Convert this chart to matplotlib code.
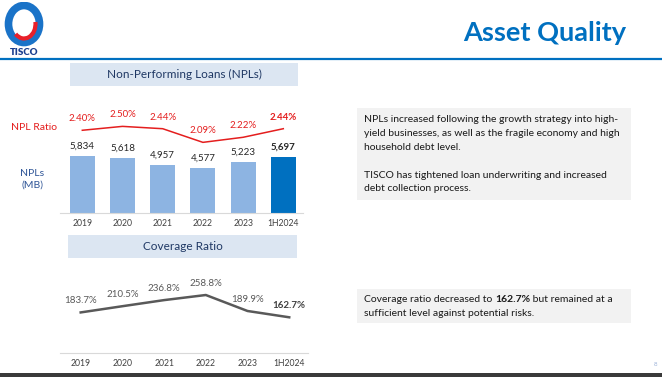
import numpy as np
import matplotlib.pyplot as plt
from matplotlib.patches import Rectangle, Ellipse, Arc

plt.rcParams['font.family'] = ['Lato', 'DejaVu Sans']

years = ['2019', '2020', '2021', '2022', '2023', '1H2024']
npl_mb = [5834, 5618, 4957, 4577, 5223, 5697]
npl_ratio = [2.40, 2.50, 2.44, 2.09, 2.22, 2.44]
coverage = [183.7, 210.5, 236.8, 258.8, 189.9, 162.7]

note_npl = ("NPLs increased following the growth strategy into high-\n"
            "yield businesses, as well as the fragile economy and high\n"
            "household debt level.\n\n"
            "TISCO has tightened loan underwriting and increased\n"
            "debt collection process.")

W, H = 662, 377
fig = plt.figure(figsize=(W / 100, H / 100), dpi=100)


def box(x0, y0, x1, y1):
    # pixel box (top-left origin) -> figure fraction rect
    return [x0 / W, 1 - y1 / H, (x1 - x0) / W, (y1 - y0) / H]


def fx(x):
    return x / W


def fy(y):
    return 1 - y / H


blue = '#0070C0'
red = '#E41E1E'
navy = '#2F5597'
fs_body = 7.5

# header
fig.add_artist(plt.Line2D([0, 1], [fy(59), fy(59)], color=blue, lw=1.6))
fig.text(fx(545), fy(33), 'Asset Quality', color=blue, fontsize=19.5,
         fontweight='bold', ha='center', va='center')

# logo
lax = fig.add_axes(box(4, 2, 44, 58))
lax.set_xlim(0, 40)
lax.set_ylim(56, 0)
lax.axis('off')
lax.add_patch(Ellipse((20, 22), 31, 37, fill=False, ec='#1a73c8', lw=5.5))
lax.add_patch(Arc((20, 22), 23, 29, theta1=-10, theta2=130, ec='#E8202A', lw=3))
lax.text(20, 50.5, 'TISCO', ha='center', va='center', fontsize=7,
         fontweight='heavy', color='#1B3F8F')

# section headers
for (x0, y0, x1, y1), label in [((70, 63, 298, 86), 'Non-Performing Loans (NPLs)'),
                                ((68, 235, 297, 258), 'Coverage Ratio')]:
    fig.add_artist(Rectangle((fx(x0), fy(y1)), (x1 - x0) / W, (y1 - y0) / H,
                             transform=fig.transFigure, fc='#DCE6F2', ec='none'))
    fig.text(fx((x0 + x1) / 2), fy((y0 + y1) / 2), label, ha='center', va='center',
             fontsize=8.5, color='#1F3864')

# NPL bars
x = np.arange(len(years))
ax = fig.add_axes(box(60, 110, 303, 213))
colors = ['#8DB4E2'] * (len(years) - 1) + [blue]
ax.bar(x, npl_mb, width=0.62, color=colors)
ax.set_xlim(-0.555, 5.49)
ax.set_ylim(0, 10537)
for i, v in enumerate(npl_mb):
    last = i == len(years) - 1
    ax.annotate(f'{v:,}', (i, v), xytext=(0, 7), textcoords='offset points',
                ha='center', va='center', fontsize=7, color='#262626',
                fontweight='bold' if last else 'normal')
ax.set_xticks(x)
ax.set_xticklabels(years)
ax.tick_params(length=0, labelsize=6.2, labelcolor='#404040', pad=4, left=False,
               labelleft=False)
for s in ['top', 'right', 'left']:
    ax.spines[s].set_visible(False)
ax.spines['bottom'].set_color('#D9D9D9')

ax2 = ax.twinx()
ax2.plot(x, npl_ratio, color=red, lw=1.1)
ax2.set_ylim(0.278, 2.92)
ax2.axis('off')
for i, v in enumerate(npl_ratio):
    last = i == len(years) - 1
    ax2.annotate(f'{v:.2f}%', (i, v), xytext=(0, 8.2), textcoords='offset points',
                 ha='center', va='center', fontsize=7, color=red,
                 fontweight='bold' if last else 'normal')

fig.text(fx(34), fy(128), 'NPL Ratio', color=red, fontsize=7.5, ha='center', va='center')
fig.text(fx(32), fy(179.5), 'NPLs\n(MB)', color=navy, fontsize=7.5, ha='center',
         va='center', linespacing=1.3)

# coverage line
cax = fig.add_axes(box(60, 270, 308, 353))
cax.plot(x, coverage, color='#595959', lw=1.8)
cax.set_xlim(-0.496, 5.45)
cax.set_ylim(8.8, 366.6)
for i, v in enumerate(coverage):
    last = i == len(years) - 1
    cax.annotate(f'{v:.1f}%', (i, v), xytext=(0, 8.5), textcoords='offset points',
                 ha='center', va='center', fontsize=7,
                 color='#404040' if last else '#595959',
                 fontweight='bold' if last else 'normal')
cax.set_xticks(x)
cax.set_xticklabels(years)
cax.tick_params(length=0, labelsize=6.2, labelcolor='#404040', pad=4, left=False,
                labelleft=False)
for s in ['top', 'right', 'left']:
    cax.spines[s].set_visible(False)
cax.spines['bottom'].set_color('#D9D9D9')

# commentary boxes
for (x0, y0, x1, y1) in [(357, 108, 631, 200), (357, 289, 631, 323)]:
    fig.add_artist(Rectangle((fx(x0), fy(y1)), (x1 - x0) / W, (y1 - y0) / H,
                             transform=fig.transFigure, fc='#F2F2F2', ec='none'))
fig.text(fx(364), fy(115.5), note_npl, fontsize=fs_body, color='#1a1a1a', va='top',
         ha='left', linespacing=1.68)
t = fig.text(fx(364), fy(299), 'Coverage ratio decreased to ', fontsize=fs_body,
             color='#1a1a1a', va='center', ha='left')
fig.canvas.draw()
bb = t.get_window_extent()
t2 = fig.text(bb.x1 / W, fy(299), '162.7%', fontsize=fs_body, color='#1a1a1a',
              fontweight='bold', va='center', ha='left')
fig.canvas.draw()
bb2 = t2.get_window_extent()
fig.text(bb2.x1 / W, fy(299), ' but remained at a', fontsize=fs_body, color='#1a1a1a',
         va='center', ha='left')
fig.text(fx(364), fy(313), 'sufficient level against potential risks.', fontsize=fs_body,
         color='#1a1a1a', va='center', ha='left')

# footer
fig.add_artist(Rectangle((0, 0), 1, 4.5 / H, transform=fig.transFigure,
                         fc='#3a3a3a', ec='none'))
fig.text(fx(656), fy(365), '8', fontsize=4.5, color='#9DB3D9', ha='center', va='center')

fig.savefig('out.png', dpi=100)
